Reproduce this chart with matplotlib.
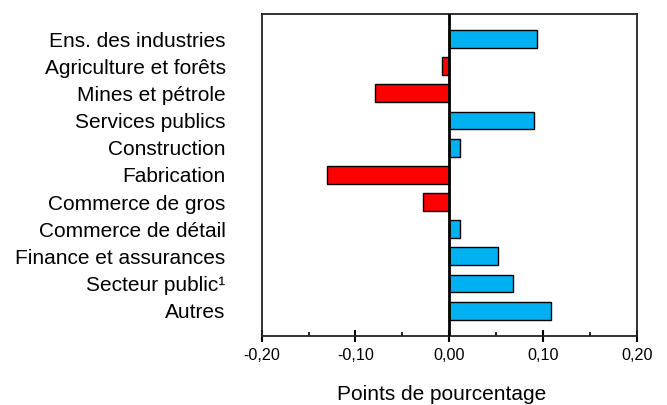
import matplotlib
matplotlib.use("Agg")
import matplotlib.pyplot as plt
from matplotlib.ticker import MultipleLocator, FuncFormatter

plt.rcParams['font.family'] = ['Liberation Sans', 'DejaVu Sans']

industries = ["Ens. des industries", "Agriculture et forêts", "Mines et pétrole",
              "Services publics", "Construction", "Fabrication", "Commerce de gros",
              "Commerce de détail", "Finance et assurances", "Secteur public¹", "Autres"]
points = [0.094, -0.008, -0.079, 0.090, 0.011, -0.130, -0.028, 0.011, 0.052, 0.068, 0.109]

colors = ['#00B0F0' if v >= 0 else '#FF0000' for v in points]

fig = plt.figure(figsize=(6.67, 4.05), dpi=100)
ax = fig.add_axes([0.3923, 0.1712, 0.5623, 0.7942])

pos = list(range(len(industries)))
ax.barh(pos, points, height=0.66, color=colors, edgecolor='black', linewidth=1, zorder=2)
ax.axvline(0, color='black', linewidth=2, zorder=3)

ax.set_xlim(-0.2, 0.2)
ax.set_ylim(10.92, -0.92)
ax.set_yticks(pos)
ax.set_yticklabels(industries, fontsize=15)
ax.tick_params(axis='y', length=0, pad=26)

ax.xaxis.set_major_locator(MultipleLocator(0.1))
ax.xaxis.set_minor_locator(MultipleLocator(0.05))
ax.xaxis.set_major_formatter(FuncFormatter(lambda v, p: f"{v:.2f}".replace('.', ',').replace('-0,00', '0,00')))
ax.tick_params(axis='x', which='major', direction='inout', length=8, width=1.5, labelsize=11.6, pad=5)
ax.tick_params(axis='x', which='minor', direction='in', length=3, width=1.2)

for s in ax.spines.values():
    s.set_linewidth(1.3)
    s.set_color('#222222')

ax.set_xlabel("Points de pourcentage", fontsize=15, labelpad=16, x=0.48)

fig.savefig("out.png", dpi=100)
